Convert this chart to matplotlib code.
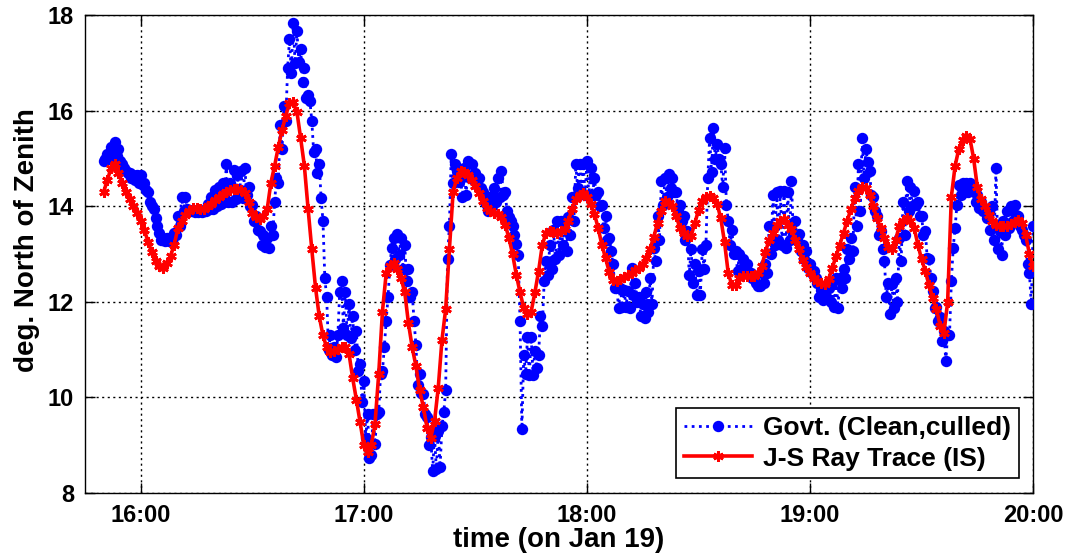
import numpy as np
import matplotlib
matplotlib.use("Agg")
import matplotlib.pyplot as plt
from matplotlib.ticker import FixedLocator

plt.rcParams['font.family'] = ['Liberation Sans', 'DejaVu Sans']
plt.rcParams['font.weight'] = 'bold'

# Elevation readings, minute by minute from 15:50 (hours since midnight)
START_HOUR = 15 + 50 / 60

# Govt. measurements: one reading on each minute, one at half past each minute
govt_on_minute = [
    14.95, 15.1, 15.25, 15.35, 15.2, 14.9, 14.75, 14.7, 14.65, 14.65,
    14.65, 14.5, 14.3, 14.0, 13.75, 13.45, 13.35, 13.35, 13.35, 13.45,
    13.8, 14.2, 14.2, 13.9, 13.92, 13.9, 13.92, 13.9, 14.05, 14.2,
    14.35, 14.4, 14.5, 14.88, 14.5, 14.77, 14.65, 14.74, 14.8, 14.4,
    14.04, 13.8, 13.49, 13.4, 13.35, 13.6, 14.1, 14.5, 15.2, 15.8,
    17.5, 17.84, 17.67, 17.3, 16.9, 16.34, 15.79, 15.2, 14.88, 13.7,
    12.1, 11.3, 11.05, 11.3, 12.44, 12.2, 11.95, 11.7, 11.4, 10.7,
    10.35, 9.66, 8.8, 9.02, 9.7, 10.55, 11.6, 12.78, 13.35, 13.42,
    13.35, 13.2, 12.7, 12.2, 11.1, 10.5, 10.07, 9.6, 9.17, 9.2,
    9.3, 9.4, 10.15, 13.6, 14.5, 14.74, 14.6, 14.8, 14.95, 14.9,
    14.7, 14.6, 14.3, 14.04, 14.2, 14.39, 14.6, 14.74, 14.3, 13.77,
    13.6, 13.21, 11.6, 10.9, 11.26, 11.26, 10.98, 10.9, 11.5, 12.86,
    13.2, 13.5, 13.7, 13.7, 13.7, 13.77, 14.2, 14.88, 14.9, 14.9,
    14.95, 14.8, 14.6, 14.3, 14.04, 13.8, 13.35, 12.8, 12.31, 12.3,
    12.25, 12.23, 12.72, 12.4, 12.1, 11.95, 12.2, 12.51, 13.14, 13.8,
    14.53, 14.6, 14.67, 14.6, 14.3, 14.04, 13.8, 13.49, 13.1, 12.8,
    12.65, 13.1, 13.2, 15.44, 15.65, 15.3, 14.9, 15.23, 13.7, 13.5,
    13.07, 13.0, 12.9, 12.8, 12.6, 12.5, 12.33, 12.6, 12.8, 13.6,
    14.25, 14.3, 14.32, 14.32, 14.3, 14.53, 13.7, 13.42, 13.2, 13.07,
    12.8, 12.65, 12.4, 12.25, 12.16, 12.3, 12.4, 12.51, 12.5, 12.7,
    13.1, 13.35, 14.4, 14.88, 15.44, 15.2, 14.74, 14.2, 13.8, 13.49,
    12.86, 12.4, 12.37, 12.5, 13.35, 14.1, 14.53, 14.4, 14.32, 14.1,
    13.8, 13.49, 12.9, 12.23, 11.9, 11.68, 11.4, 11.3, 12.43, 13.55,
    14.46, 14.5, 14.5, 14.5, 14.4, 14.25, 14.1, 13.9, 13.9, 14.0,
    14.8, 13.49, 13.7, 13.9, 14.0, 14.04, 13.8, 13.5, 13.3, 12.6,
    13.6,
]

govt_half_minute = [
    15.0, 15.0, 15.05, 15.05, 14.95, 14.8, 14.7, 14.6, 14.55, 14.5,
    14.45, 14.35, 14.1, 13.95, 13.6, 13.3, 13.27, 13.27, 13.27, 13.4,
    13.6, 13.9, 13.95, 13.9, 13.88, 13.88, 13.88, 13.9, 13.95, 13.95,
    14.0, 14.05, 14.1, 14.1, 14.1, 14.15, 14.2, 14.18, 14.24, 14.0,
    13.69, 13.5, 13.2, 13.15, 13.13, 13.4, 14.6, 15.7, 16.1, 16.9,
    16.8, 17.0, 17.03, 16.6, 16.27, 16.2, 15.15, 14.7, 14.18, 12.5,
    11.0, 10.9, 10.84, 12.2, 11.46, 11.3, 11.25, 11.0, 10.55, 9.9,
    9.16, 8.74, 9.66, 9.66, 10.5, 11.05, 12.1, 13.14, 12.9, 12.99,
    12.7, 12.43, 12.1, 11.6, 10.27, 10.1, 9.65, 9.0, 8.46, 8.5,
    8.54, 9.7, 12.9, 15.09, 14.9, 14.52, 14.2, 14.24, 14.59, 14.55,
    14.45, 14.38, 14.1, 13.9, 14.0, 14.1, 14.2, 14.24, 13.9, 13.69,
    13.4, 12.99, 9.34, 10.5, 10.48, 10.48, 10.62, 11.7, 12.44, 12.57,
    12.7, 12.9, 12.99, 13.2, 13.06, 13.41, 13.7, 14.38, 14.3, 14.24,
    14.24, 14.24, 14.24, 14.0, 13.55, 13.3, 13.06, 12.3, 11.88, 11.9,
    11.9, 11.88, 12.15, 12.0, 11.7, 11.67, 11.8, 11.95, 12.85, 13.3,
    14.04, 14.2, 14.38, 14.3, 13.9, 13.69, 13.3, 12.57, 12.4, 12.15,
    12.15, 12.7, 14.6, 14.73, 15.0, 15.0, 14.4, 14.04, 13.2, 13.0,
    12.64, 12.7, 12.8, 12.6, 12.5, 12.4, 12.33, 12.4, 12.6, 13.0,
    13.2, 13.3, 13.2, 13.13, 13.3, 13.4, 13.3, 13.06, 12.9, 12.71,
    12.6, 12.5, 12.1, 12.05, 12.09, 12.0, 11.9, 11.88, 12.3, 12.5,
    12.9, 13.06, 13.6, 13.9, 14.6, 14.94, 14.24, 13.9, 13.4, 13.1,
    12.1, 11.74, 11.88, 12.0, 12.85, 13.4, 13.9, 14.0, 14.04, 13.8,
    13.4, 12.92, 12.5, 11.88, 11.6, 11.18, 10.76, 11.3, 13.14, 14.04,
    14.24, 14.3, 14.3, 14.38, 14.1, 13.97, 13.9, 13.76, 13.5, 13.3,
    13.1, 12.99, 13.4, 13.55, 13.7, 13.83, 13.6, 13.4, 12.8, 11.95,
]

# J-S ray trace, one value per minute from 15:50 to 20:00
ray_trace = [
    14.3, 14.55, 14.8, 14.9, 14.7, 14.5, 14.3, 14.15, 14.0, 13.87,
    13.7, 13.5, 13.25, 13.05, 12.85, 12.75, 12.72, 12.82, 12.96, 13.2,
    13.55, 13.7, 13.82, 13.9, 13.96, 13.96, 13.95, 13.94, 14.0, 14.06,
    14.14, 14.2, 14.26, 14.3, 14.34, 14.37, 14.36, 14.34, 14.28, 14.1,
    13.87, 13.78, 13.73, 13.8, 13.94, 14.5, 14.85, 15.25, 15.6, 15.9,
    16.17, 16.18, 15.98, 15.43, 14.85, 13.95, 13.1, 12.3, 11.7, 11.3,
    11.05, 10.95, 10.98, 11.02, 11.06, 11.05, 10.92, 10.4, 9.95, 9.48,
    9.0, 8.85, 9.0, 9.45, 10.5, 11.8, 12.6, 12.75, 12.82, 12.7,
    12.5, 12.2, 11.55, 11.05, 10.66, 10.15, 9.8, 9.36, 9.16, 9.5,
    10.2, 11.2, 11.85, 13.1, 14.3, 14.6, 14.74, 14.72, 14.66, 14.55,
    14.42, 14.28, 14.12, 13.97, 13.9, 13.87, 13.85, 13.78, 13.62, 13.35,
    13.0, 12.57, 12.2, 11.88, 11.75, 11.8, 12.2, 12.65, 13.2, 13.45,
    13.48, 13.47, 13.45, 13.48, 13.53, 13.7, 13.95, 14.15, 14.25, 14.28,
    14.2, 14.05, 13.85, 13.55, 13.2, 12.92, 12.62, 12.47, 12.44, 12.48,
    12.53, 12.57, 12.61, 12.66, 12.72, 12.8, 12.92, 13.12, 13.37, 13.66,
    13.9, 14.11, 14.07, 14.0, 13.8, 13.55, 13.44, 13.38, 13.38, 13.65,
    13.92, 14.12, 14.2, 14.21, 14.18, 14.05, 13.75, 13.25, 12.6, 12.35,
    12.35, 12.5, 12.54, 12.54, 12.54, 12.54, 12.6, 12.75, 13.05, 13.3,
    13.45, 13.62, 13.7, 13.73, 13.62, 13.52, 13.3, 13.1, 12.88, 12.73,
    12.6, 12.5, 12.44, 12.4, 12.37, 12.48, 12.72, 12.96, 13.2, 13.45,
    13.7, 13.95, 14.17, 14.32, 14.4, 14.38, 14.25, 14.0, 13.75, 13.55,
    13.35, 13.15, 13.1, 13.3, 13.59, 13.7, 13.76, 13.7, 13.55, 13.2,
    12.89, 12.65, 12.35, 12.08, 11.85, 11.5, 11.35, 12.0, 14.2, 14.85,
    15.2, 15.4, 15.47, 15.42, 15.0, 14.4, 14.15, 14.0, 13.82, 13.7,
    13.62, 13.6, 13.59, 13.6, 13.63, 13.68, 13.72, 13.65, 13.4, 13.0,
    12.75,
]

tick_hours = [16, 17, 18, 19, 20]
tick_labels = ['16:00', '17:00', '18:00', '19:00', '20:00']
y_ticks = [8, 10, 12, 14, 16, 18]

# Time bases (hours)
t_on = START_HOUR + np.arange(len(govt_on_minute)) / 60
t_half = START_HOUR + (np.arange(len(govt_half_minute)) + 0.5) / 60
t_govt = np.concatenate([t_on, t_half])
v_govt = np.concatenate([govt_on_minute, govt_half_minute])
order = np.argsort(t_govt, kind='stable')
t_govt, v_govt = t_govt[order], v_govt[order]
t_ray = START_HOUR + np.arange(len(ray_trace)) / 60

fig = plt.figure(figsize=(10.65, 5.59), dpi=100)
ax = fig.add_axes([0.0798, 0.1181, 0.8903, 0.8542])

ax.plot(t_govt, v_govt, color='#0000ff', linestyle=(0, (1, 1.6)), linewidth=2.0,
        marker='o', markersize=8.2, markeredgewidth=0,
        label='Govt. (Clean,culled)', zorder=3)
ax.plot(t_ray, ray_trace, color='#ff0000', linestyle='-', linewidth=2.6,
        marker=(6, 2, 0), markersize=7.5, markeredgewidth=2.0,
        label='J-S Ray Trace (IS)', zorder=4)

ax.set_xlim(15.75, 20.0)
ax.set_ylim(8, 18)
ax.xaxis.set_major_locator(FixedLocator(tick_hours))
ax.set_xticklabels(tick_labels)
ax.yaxis.set_major_locator(FixedLocator(y_ticks))

ax.grid(True, color='black', linestyle=(0, (1.5, 2.5)), linewidth=1.0)
ax.set_axisbelow(True)
for s in ax.spines.values():
    s.set_linewidth(1.0)
    s.set_color('black')
ax.tick_params(direction='in', length=7, width=1.0, top=True, right=True,
               labelsize=17, pad=8)
for lbl in ax.get_xticklabels() + ax.get_yticklabels():
    lbl.set_fontweight('bold')

ax.set_xlabel('time (on Jan 19)', fontsize=20, fontweight='bold', labelpad=0)
ax.set_ylabel('deg. North of Zenith', fontsize=20, fontweight='bold')
ax.yaxis.set_label_coords(-0.047, 0.53)

leg = ax.legend(loc='lower right', fontsize=19, numpoints=1, handlelength=2.6,
                borderaxespad=0.55, fancybox=False, framealpha=1.0,
                edgecolor='black', borderpad=0.3, labelspacing=0.25,
                handletextpad=0.4)
leg.get_frame().set_linewidth(1.2)
for t in leg.get_texts():
    t.set_fontweight('bold')

fig.savefig('out.png', dpi=100)
